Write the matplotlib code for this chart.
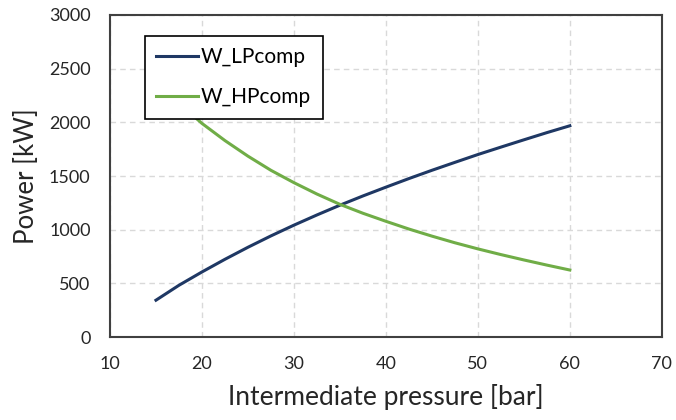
import matplotlib
matplotlib.use("Agg")
import matplotlib.pyplot as plt

plt.rcParams['font.family'] = ['Lato', 'DejaVu Sans']

# intermediate pressure [bar]
pressure = [15, 17.5, 20, 22.5, 25, 27.5, 30, 32.5, 35, 37.5,
            40, 42.5, 45, 47.5, 50, 52.5, 55, 57.5, 60]
# compressor power [kW]
w_lp = [343, 482, 606, 724, 836, 942, 1042, 1137, 1228, 1314,
        1396, 1476, 1553, 1627, 1700, 1769, 1837, 1904, 1968]
w_hp = [2410, 2180, 1990, 1830, 1685, 1553, 1438, 1332, 1236, 1153,
        1078, 1006, 940, 878, 821, 768, 718, 670, 624]

fig = plt.figure(figsize=(6.76, 4.2), dpi=100)
ax = fig.add_axes([0.1627, 0.1976, 0.8163, 0.7667])

ax.plot(pressure, w_lp, color='#1F3864', lw=2.2, label='W_LPcomp')
ax.plot(pressure, w_hp, color='#70AD47', lw=2.2, label='W_HPcomp')

ax.set_xlim(10, 70)
ax.set_ylim(0, 3000)
ax.set_xticks(range(10, 71, 10))
ax.set_yticks(range(0, 3001, 500))
ax.grid(True, color='#D9D9D9', ls=(0, (4, 3)), lw=1.0)
ax.set_axisbelow(True)
ax.tick_params(length=0, labelsize=13, colors='#262626', pad=14)
for s in ax.spines.values():
    s.set_color('#404040')
    s.set_linewidth(1.5)

ax.set_xlabel('Intermediate pressure [bar]', fontsize=19, color='#262626', labelpad=8)
ax.set_ylabel('Power [kW]', fontsize=18.5, color='#262626', labelpad=7)

leg = ax.legend(loc='upper left', bbox_to_anchor=(0.063, 0.935), borderaxespad=0,
                fontsize=15, frameon=True, fancybox=False, framealpha=1,
                edgecolor='black', handlelength=2.0, handletextpad=0.15,
                labelspacing=0.95, borderpad=0.55)
leg.get_frame().set_linewidth(1.2)

fig.savefig('out.png', dpi=100)
